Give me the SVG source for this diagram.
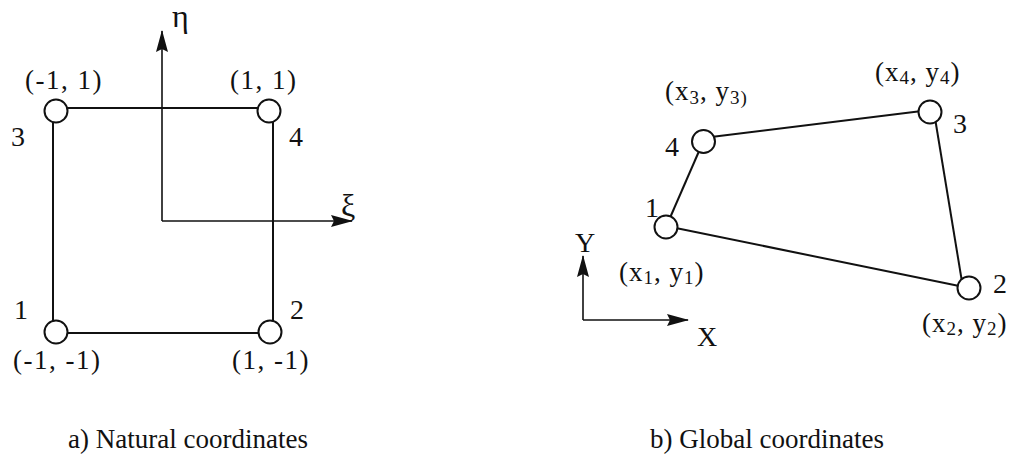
<svg xmlns="http://www.w3.org/2000/svg" width="1014" height="472" viewBox="0 0 1014 472" font-family="'Liberation Serif', 'DejaVu Serif', 'Times New Roman', serif">
<style>
text{font-family:'Liberation Serif','DejaVu Serif','Times New Roman',serif;fill:#111}
.lbl{font-size:27px;letter-spacing:1.5px}
.num{font-size:28px}
.cap{font-size:27px}
.edge{stroke:#111;stroke-width:2;fill:none}
.axis{stroke:#111;stroke-width:1.6;fill:none}
.node{fill:#fff;stroke:#111;stroke-width:2}
.sub{font-size:19px}
</style>
<defs>
<marker id="arr" viewBox="0 0 22 12" refX="21" refY="6" markerWidth="22" markerHeight="12" markerUnits="userSpaceOnUse" orient="auto">
<path d="M0,0 L22,6 L0,12 L3,6 Z" fill="#111"/>
</marker>
</defs>
<rect width="1014" height="472" fill="#fff"/>
<g id="connectors">
<line class="edge" x1="56" y1="108" x2="269" y2="108"/>
<line class="edge" x1="53" y1="111" x2="53" y2="332"/>
<line class="edge" x1="273" y1="111" x2="273" y2="332"/>
<line class="edge" x1="56" y1="333" x2="270" y2="333"/>
<line class="axis" x1="162" y1="221" x2="162" y2="31" marker-end="url(#arr)"/>
<line class="axis" x1="162" y1="221" x2="352" y2="221" marker-end="url(#arr)"/>
<line class="edge" x1="703" y1="138" x2="930" y2="110"/>
<line class="edge" x1="934" y1="112" x2="963" y2="288"/>
<line class="edge" x1="666" y1="226" x2="969" y2="288"/>
<line class="edge" x1="666" y1="227" x2="703" y2="142"/>
<line class="axis" x1="583" y1="320" x2="583" y2="256" marker-end="url(#arr)"/>
<line class="axis" x1="583" y1="320" x2="688" y2="320" marker-end="url(#arr)"/>
</g>
<g id="axis-labels">
<text x="172" y="27" style="font-size:32px">η</text>
<text x="341" y="216" style="font-size:32px">ξ</text>
<text x="575" y="252" style="font-size:28px">Y</text>
<text x="697" y="346" style="font-size:28px">X</text>
</g>
<g id="n-3">
<circle class="node" cx="56" cy="111" r="11.5"/>
<text class="lbl" x="25" y="89">(-1, 1)</text>
<text class="num" x="11" y="146">3</text>
</g>
<g id="n-4">
<circle class="node" cx="269" cy="111" r="11.5"/>
<text class="lbl" x="230" y="89">(1, 1)</text>
<text class="num" x="289" y="146">4</text>
</g>
<g id="n-1">
<circle class="node" cx="56" cy="332" r="11.5"/>
<text class="lbl" x="13" y="369">(-1, -1)</text>
<text class="num" x="14" y="319">1</text>
</g>
<g id="n-2">
<circle class="node" cx="270" cy="332" r="11.5"/>
<text class="lbl" x="232" y="369">(1, -1)</text>
<text class="num" x="290" y="319">2</text>
</g>
<g id="g-1">
<circle class="node" cx="666" cy="227" r="11.5"/>
<text class="num" x="645" y="217">1</text>
<text class="lbl" x="619" y="281" style="letter-spacing:1px">(x<tspan class="sub" dy="3">1</tspan><tspan dy="-3">, y</tspan><tspan class="sub" dy="3">1</tspan><tspan dy="-3">)</tspan></text>
</g>
<g id="g-4">
<circle class="node" cx="703.5" cy="141.5" r="11.5"/>
<text class="num" x="665" y="156">4</text>
<text class="lbl" x="665" y="100" style="letter-spacing:1px">(x<tspan class="sub" dy="4">3</tspan><tspan dy="-4">, y</tspan><tspan class="sub" dy="4">3)</tspan></text>
</g>
<g id="g-3">
<circle class="node" cx="930" cy="112" r="11.5"/>
<text class="num" x="953" y="133">3</text>
<text class="lbl" x="875" y="81" style="letter-spacing:1px">(x<tspan class="sub" dy="3">4</tspan><tspan dy="-3">, y</tspan><tspan class="sub" dy="3">4</tspan><tspan dy="-3">)</tspan></text>
</g>
<g id="g-2">
<circle class="node" cx="969" cy="288" r="11.5"/>
<text class="num" x="993" y="293">2</text>
<text class="lbl" x="922" y="332" style="letter-spacing:1px">(x<tspan class="sub" dy="3">2</tspan><tspan dy="-3">, y</tspan><tspan class="sub" dy="3">2</tspan><tspan dy="-3">)</tspan></text>
</g>
<g id="captions">
<text class="cap" x="68" y="448">a) Natural coordinates</text>
<text class="cap" x="650" y="448">b) Global coordinates</text>
</g>
</svg>
